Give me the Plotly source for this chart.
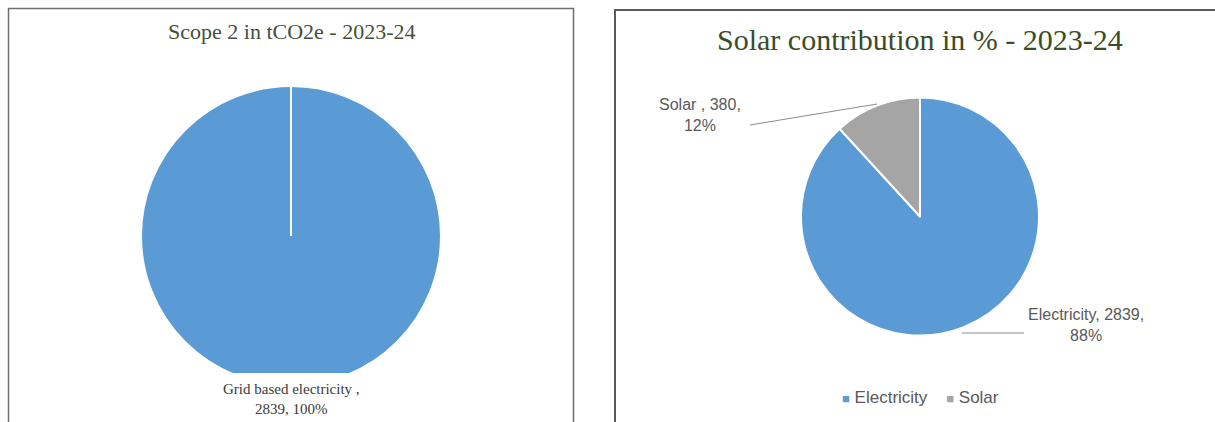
import plotly.graph_objects as go

# Scope 2 emissions (tCO2e) for 2023-24
scope2_labels = ["Grid based electricity "]
scope2_values = [2839]

# Electricity vs solar contribution for 2023-24
mix_labels = ["Electricity", "Solar "]
mix_legend = ["Electricity", "Solar"]
mix_values = [2839, 380]

W, H = 1215, 422
BLUE = "#5B9BD5"
GREY = "#A5A5A5"
mix_colors = [BLUE, GREY]


def px(x):
    return x / W


def py(y):
    return 1 - y / H


def pct(v, vals):
    return round(100 * v / sum(vals))


fig = go.Figure()

# Left: single-slice pie
fig.add_trace(go.Pie(
    labels=scope2_labels, values=scope2_values,
    marker=dict(colors=[BLUE], line=dict(color="white", width=2)),
    textinfo="none", hoverinfo="label+value+percent",
    sort=False, direction="clockwise", rotation=0,
    domain=dict(x=[px(141), px(441)], y=[py(387), py(85)]),
    showlegend=False,
))

# Right: electricity / solar split
fig.add_trace(go.Pie(
    labels=mix_legend, values=mix_values,
    marker=dict(colors=mix_colors, line=dict(color="white", width=2)),
    textinfo="none", hoverinfo="label+value+percent",
    sort=False, direction="clockwise", rotation=0,
    domain=dict(x=[px(801), px(1039)], y=[py(336), py(97)]),
    showlegend=False,
))

shapes = [
    # panel frames
    dict(type="rect", xref="paper", yref="paper", x0=px(8.5), x1=px(573.5), y0=py(440), y1=py(8.5),
         line=dict(color="#6f6f6f", width=1.5), layer="above"),
    dict(type="rect", xref="paper", yref="paper", x0=px(615), x1=px(1230), y0=py(440), y1=py(10),
         line=dict(color="#5a5a5a", width=2), layer="above"),
    # white band below the left pie where its label sits
    dict(type="rect", xref="paper", yref="paper", x0=px(130), x1=px(450), y0=py(421), y1=py(373),
         line=dict(width=0), fillcolor="white", layer="above"),
    # radial seam of the single-slice pie
    dict(type="line", xref="paper", yref="paper", x0=px(291), x1=px(291), y0=py(236), y1=py(85),
         line=dict(color="white", width=2), layer="above"),
    # leader lines
    dict(type="line", xref="paper", yref="paper", x0=px(750), x1=px(877), y0=py(125), y1=py(104),
         line=dict(color="#8c8c8c", width=1), layer="above"),
    dict(type="line", xref="paper", yref="paper", x0=px(962), x1=px(1024), y0=py(333), y1=py(333),
         line=dict(color="#8c8c8c", width=1), layer="above"),
]

common = dict(xref="paper", yref="paper", showarrow=False, xanchor="center", yanchor="middle")

legend_text = "    ".join(
    f"<span style='color:{c}; font-size:13px'>■</span> {name}"
    for name, c in zip(mix_legend, mix_colors)
)

annotations = [
    dict(text="Scope 2 in tCO2e - 2023-24", x=px(291), y=py(31), **common,
         font=dict(family="Liberation Serif", size=22, color="#44503a")),
    dict(text="Solar contribution in % - 2023-24", x=px(920), y=py(40), **common,
         font=dict(family="Liberation Serif", size=30, color="#3a4d26")),
    dict(text=f"{scope2_labels[0]},<br>{scope2_values[0]}, {pct(scope2_values[0], scope2_values)}%",
         x=px(291), y=py(399), **common,
         font=dict(family="Liberation Serif", size=15, color="#3a3a3a")),
    dict(text=f"{mix_labels[1]}, {mix_values[1]},<br>{pct(mix_values[1], mix_values)}%",
         x=px(700), y=py(115), **common,
         font=dict(family="Liberation Sans", size=16, color="#595959")),
    dict(text=f"{mix_labels[0]}, {mix_values[0]},<br>{pct(mix_values[0], mix_values)}%",
         x=px(1086), y=py(325), **common,
         font=dict(family="Liberation Sans", size=16, color="#595959")),
    dict(text=legend_text, x=px(920), y=py(397), **common,
         font=dict(family="Liberation Sans", size=17, color="#595959")),
]

fig.update_layout(
    width=W, height=H,
    margin=dict(l=0, r=0, t=0, b=0),
    paper_bgcolor="white", plot_bgcolor="white",
    shapes=shapes, annotations=annotations,
    showlegend=False,
)

fig.write_html("out.html")
